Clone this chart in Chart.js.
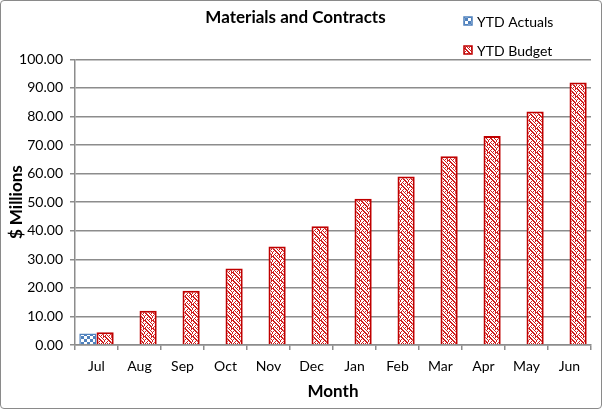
<!DOCTYPE html>
<html>
<head>
<meta charset="utf-8">
<script src="https://cdn.jsdelivr.net/npm/chart.js@4/dist/chart.umd.min.js"></script>
<style>
  html, body { margin: 0; padding: 0; background: #fff; }
  #wrap {
    position: relative;
    width: 602px;
    height: 409px;
    box-sizing: border-box;
    border: 1px solid #8a8a8a;
    border-radius: 4px;
    overflow: hidden;
  }
  #myChart { position: absolute; left: -1px; top: -1px; }
</style>
</head>
<body>
<div id="wrap"><canvas id="myChart" width="602" height="409"></canvas></div>
<script>
const months = ['Jul', 'Aug', 'Sep', 'Oct', 'Nov', 'Dec', 'Jan', 'Feb', 'Mar', 'Apr', 'May', 'Jun'];
const ytdActuals = [4.0, null, null, null, null, null, null, null, null, null, null, null];
const ytdBudget = [4.5, 12.0, 19.0, 26.8, 34.5, 41.6, 51.2, 59.0, 66.1, 73.2, 81.8, 91.9];
const yTicks = [0, 10, 20, 30, 40, 50, 60, 70, 80, 90, 100];

const fontFamily = 'Lato, "DejaVu Sans", sans-serif';
const gridColor = '#8c8c8c';
const textColor = '#000';

function makePattern(rows, fg, bg) {
  const size = rows.length;
  const c = document.createElement('canvas');
  c.width = size;
  c.height = size;
  const ctx = c.getContext('2d');
  ctx.fillStyle = bg;
  ctx.fillRect(0, 0, size, size);
  ctx.fillStyle = fg;
  rows.forEach((row, y) => {
    [...row].forEach((bit, x) => {
      if (bit === '1') ctx.fillRect(x, y, 1, 1);
    });
  });
  return ctx.createPattern(c, 'repeat');
}

// weave-like red pattern for budget, blue checker for actuals
const budgetFill = makePattern([
  '11001001',
  '01100101',
  '00110010',
  '01011001',
  '10001100',
  '10010110',
  '00100011',
  '01010101',
], '#d01c1c', '#ffffff');

const actualFill = makePattern([
  '000111',
  '000111',
  '000111',
  '111000',
  '111000',
  '111000',
], '#4f81bd', '#ffffff');

const budgetBorder = '#c00000';
const actualBorder = '#4f81bd';

const legendPlugin = {
  id: 'sideLegend',
  afterDraw(chart) {
    const { ctx } = chart;
    const items = chart.data.datasets.map(ds => ({
      label: ds.label, fill: ds.backgroundColor, stroke: ds.borderColor,
    }));
    const ys = [21, 50];
    ctx.save();
    items.forEach((item, i) => {
      const y = ys[i];
      ctx.fillStyle = item.fill;
      ctx.fillRect(464, y - 4, 8, 8);
      ctx.strokeStyle = item.stroke;
      ctx.lineWidth = 1.5;
      ctx.strokeRect(464, y - 4, 8, 8);
      ctx.fillStyle = textColor;
      ctx.font = `14px ${fontFamily}`;
      ctx.textBaseline = 'middle';
      ctx.textAlign = 'left';
      ctx.fillText(item.label, 477, y + 1);
    });
    ctx.restore();
  },
};

new Chart(document.querySelector('#myChart'), {
  type: 'bar',
  data: {
    labels: months,
    datasets: [
      {
        label: 'YTD Actuals',
        data: ytdActuals,
        backgroundColor: actualFill,
        borderColor: actualBorder,
        borderWidth: 1.5,
        barPercentage: 1,
        categoryPercentage: 0.8,
      },
      {
        label: 'YTD Budget',
        data: ytdBudget,
        backgroundColor: budgetFill,
        borderColor: budgetBorder,
        borderWidth: 2,
        barPercentage: 1,
        categoryPercentage: 0.8,
      },
    ],
  },
  options: {
    responsive: false,
    animation: false,
    events: [],
    layout: {
      padding: { top: 7, right: 11, left: 0, bottom: 0 },
    },
    scales: {
      x: {
        grid: {
          offset: true,
          drawOnChartArea: false,
          drawTicks: true,
          tickLength: 5,
          color: gridColor,
          lineWidth: 1.5,
        },
        border: { color: gridColor, width: 1.5 },
        ticks: {
          color: textColor,
          font: { family: fontFamily, size: 14 },
          padding: 8,
        },
        title: {
          display: true,
          text: 'Month',
          color: textColor,
          font: { family: fontFamily, size: 17, weight: 'bold' },
          padding: { top: 4, bottom: 7 },
        },
        afterFit(scale) { scale.height = 64; },
      },
      y: {
        min: 0,
        max: 100,
        afterBuildTicks(scale) { scale.ticks = yTicks.map(v => ({ value: v })); },
        grid: {
          color: gridColor,
          lineWidth: 1.5,
          tickLength: 5,
        },
        border: { color: gridColor, width: 1.5 },
        ticks: {
          color: textColor,
          font: { family: fontFamily, size: 14 },
          padding: 7,
          callback: v => Number(v).toFixed(2),
        },
        title: {
          display: true,
          text: '$ Millions',
          color: textColor,
          font: { family: fontFamily, size: 17, weight: 'bold' },
          padding: { top: 6, bottom: 0 },
        },
        afterFit(scale) { scale.width = 75; },
      },
    },
    plugins: {
      legend: { display: false },
      tooltip: { enabled: false },
      title: {
        display: true,
        text: 'Materials and Contracts',
        color: textColor,
        font: { family: fontFamily, size: 17, weight: 'bold', lineHeight: 1.2 },
        padding: { top: 0, bottom: 32 },
      },
    },
  },
  plugins: [legendPlugin],
});
</script>
</body>
</html>
